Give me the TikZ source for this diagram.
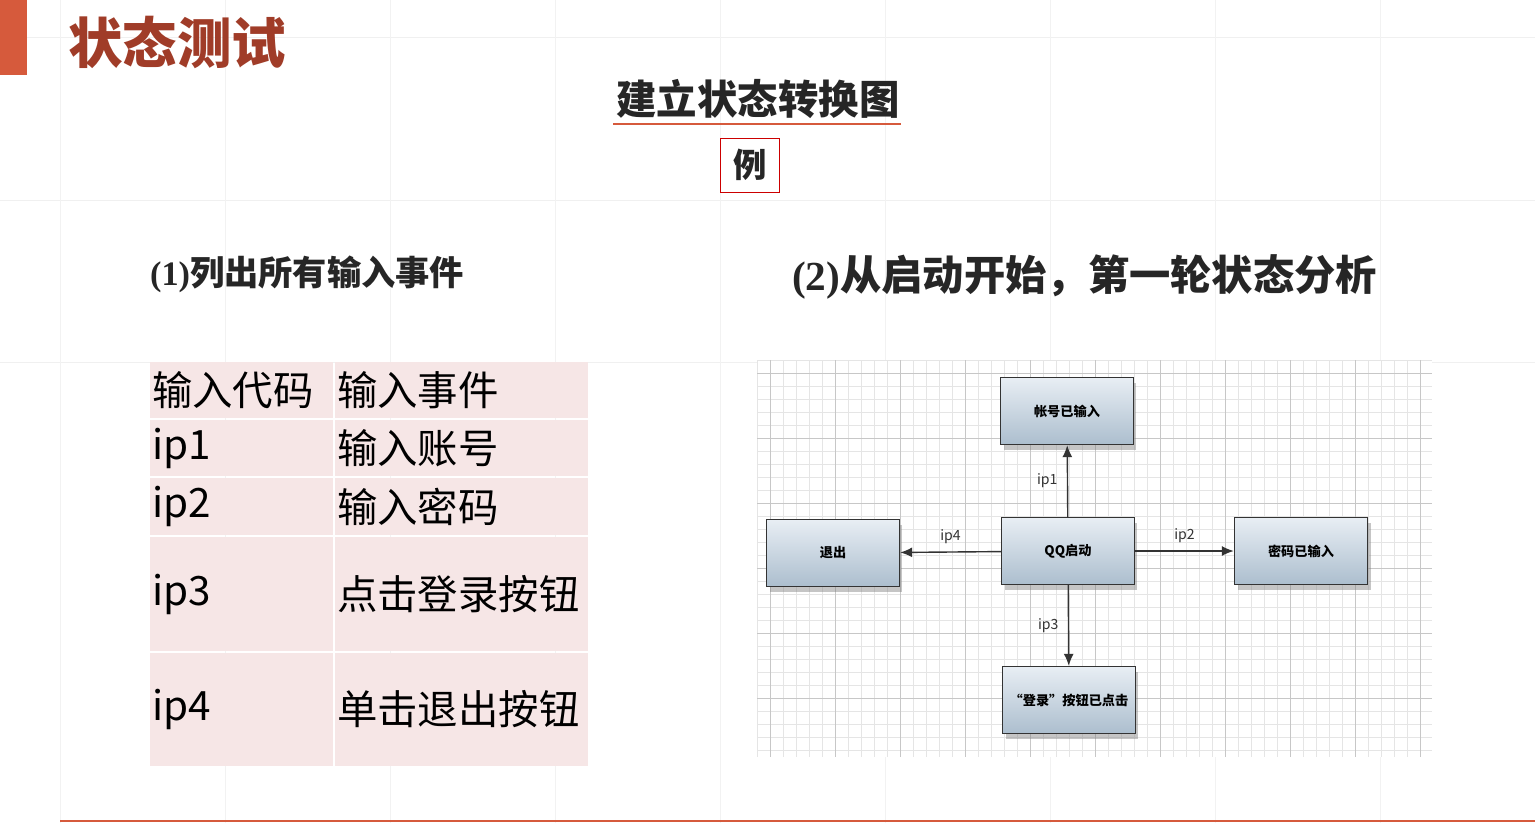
\documentclass[tikz,border=0pt]{standalone}
\usepackage{fontspec}
\setmainfont{Noto Sans CJK SC}
\newfontfamily\serifnum{Liberation Serif}
\usetikzlibrary{arrows.meta,positioning,shadows}
\definecolor{titlecolor}{RGB}{160,60,40}
\definecolor{barcolor}{RGB}{214,90,60}
\definecolor{cellcolor}{RGB}{246,230,230}
\definecolor{boxtop}{RGB}{232,238,244}
\definecolor{boxbottom}{RGB}{172,190,206}
\tikzset{
    cell/.style={fill=cellcolor,anchor=north west,inner sep=0pt},
    celltext/.style={anchor=west,font=\fontsize{23}{23}\selectfont,inner sep=1pt},
    statebox/.style={draw=black!80,thick,top color=boxtop,bottom color=boxbottom,
        minimum width=2.66cm,minimum height=1.34cm,font=\fontsize{7.5}{8}\selectfont\bfseries,
        drop shadow={opacity=0.45,shadow xshift=0.6mm,shadow yshift=-1mm}},
    trans/.style={-{Latex[length=2.4mm,width=2mm]},thick,black!80},
    translabel/.style={font=\fontsize{8}{8}\selectfont,text=black!80}
}
\begin{document}
\begin{tikzpicture}[x=0.02cm,y=-0.02cm]
    % Background
    \fill[white] (0,0) rectangle (1535,823);
    \useasboundingbox (0,0) rectangle (1535,823);
    \foreach \y in {37,200,362} \draw[black!6] (0,\y) -- (1535,\y);
    \foreach \x in {60,225,390,555,720,885,1050,1215,1380} \draw[black!5] (\x,0) -- (\x,823);
    \draw[barcolor,thick] (60,821) -- (1535,821);
    \fill[barcolor] (0,0) rectangle (27,75);

    % Titles
    \node[anchor=west,text=titlecolor,font=\fontsize{31}{31}\selectfont\bfseries] (title) at (62,42) {状态测试};
    \node[font=\fontsize{23}{23}\selectfont\bfseries,text=black!85] (subtitle) at (758,99) {建立状态转换图};
    \draw[barcolor,line width=1.6pt] (613,124) -- (901,124);
    \node[draw=red!80!black,font=\fontsize{19}{19}\selectfont\bfseries,text=black!85,
        minimum width=1.18cm,minimum height=1.08cm] (example) at (750,165) {例};
    \node[anchor=west,font=\fontsize{19.5}{19.5}\selectfont\bfseries,text=black!85] (step1) at (144,274)
        {{\serifnum(1)}列出所有输入事件};
    \node[anchor=west,font=\fontsize{23.5}{23.5}\selectfont\bfseries,text=black!85] (step2) at (786,277)
        {{\serifnum(2)}从启动开始，第一轮状态分析};

    % Table of input events
    \foreach \ya/\yb/\code/\event in {362/418/输入代码/输入事件, 420/476/ip1/输入账号,
        478/535/ip2/输入密码, 537/651/ip3/点击登录按钮, 653/766/ip4/单击退出按钮} {
        \fill[cellcolor] (150,\ya) rectangle (333,\yb);
        \fill[cellcolor] (335,\ya) rectangle (588,\yb);
        \node[celltext] at (150,{(\ya+\yb)/2}) {\code};
        \node[celltext] at (335,{(\ya+\yb)/2}) {\event};
    }

    % State diagram
    \fill[white] (757,360) rectangle (1432,757);
    \foreach \x in {757,770,...,1432} \draw[black!10,very thin] (\x,360) -- (\x,757);
    \foreach \y in {360,373,...,757} \draw[black!10,very thin] (757,\y) -- (1432,\y);
    \foreach \x in {770,835,...,1432} \draw[black!22] (\x,360) -- (\x,757);
    \foreach \y in {373,438,...,757} \draw[black!22] (757,\y) -- (1432,\y);

    \node[statebox] (start) at (1068,551) {QQ启动};
    \node[statebox] (account) at (1067,411) {帐号已输入};
    \node[statebox] (password) at (1301,551) {密码已输入};
    \node[statebox] (quit) at (833,553) {退出};
    \node[statebox] (login) at (1069,700) {“登录”按钮已点击};

    \draw[trans] (start) -- node[translabel,left=2pt] {ip1} (account);
    \draw[trans] (start) -- node[translabel,above=1pt] {ip2} (password);
    \draw[trans] (start) -- node[translabel,left=2pt] {ip3} (login);
    \draw[trans] (start) -- node[translabel,above=1pt] {ip4} (quit);
\end{tikzpicture}
\end{document}
